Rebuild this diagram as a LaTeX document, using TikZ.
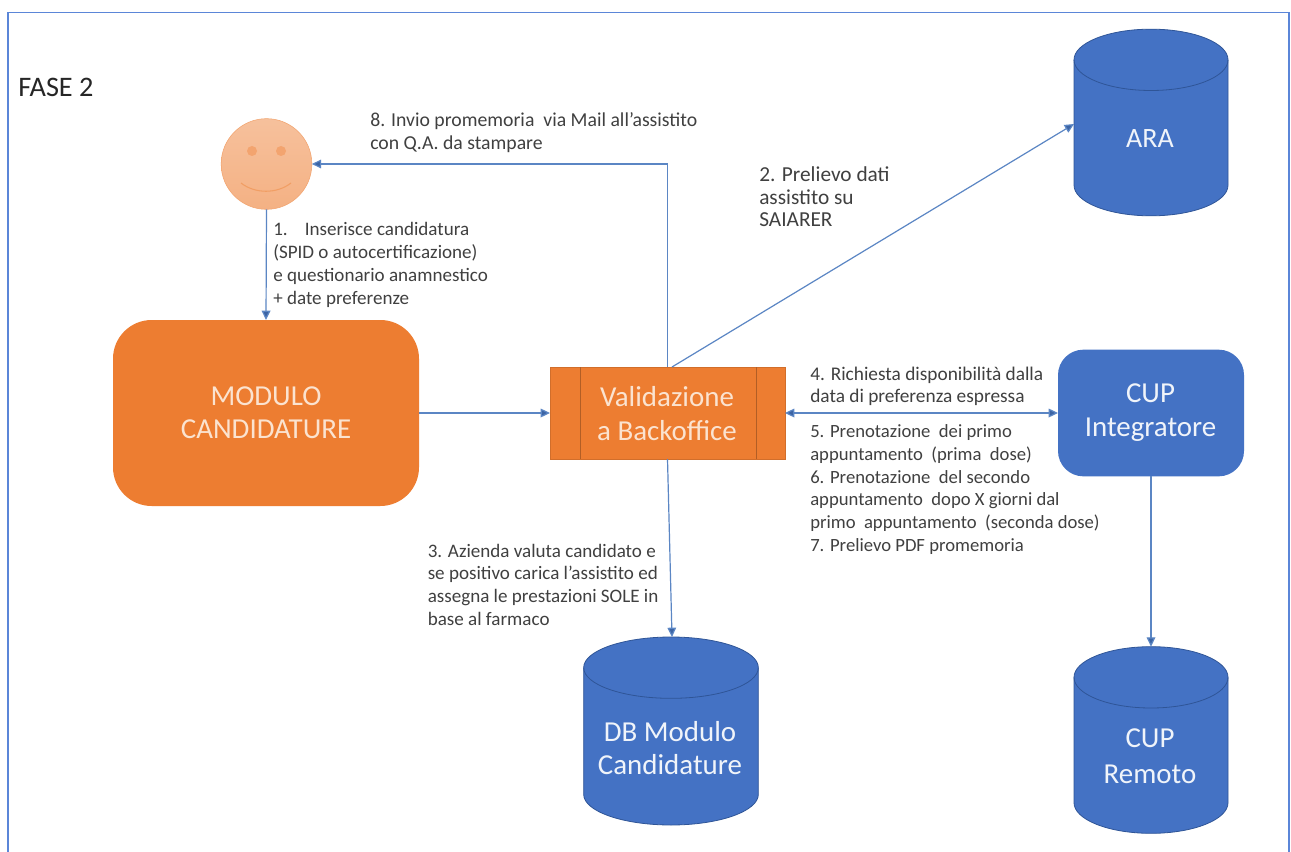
\documentclass[tikz,border=0pt]{standalone}
\usepackage{fontspec}
\setmainfont{Carlito}
\usetikzlibrary{arrows.meta}
\definecolor{framec}{HTML}{5B86D8}
\definecolor{blu}{HTML}{4472C4}
\definecolor{bluline}{HTML}{2F5597}
\definecolor{arr}{HTML}{5B86C4}
\definecolor{oran}{HTML}{ED7D31}
\definecolor{cream}{HTML}{FBE3D0}
\definecolor{txt}{HTML}{404040}
\tikzset{
  dbbox/.style={minimum width=115.5pt,minimum height=140pt,inner sep=0pt,outer sep=0pt},
  boxlabel/.style={text=white!92!blu,font=\fontsize{21.7}{27}\selectfont,align=center},
  note/.style={text=txt,font=\fontsize{14.3}{17.2}\selectfont,align=left,anchor=north west,inner sep=0pt},
  link/.style={draw=arr,line width=0.9pt,-{Triangle[length=7pt,width=6.5pt,fill=bluline!70!arr]}},
  dlink/.style={link,{Triangle[length=7pt,width=6.5pt,fill=bluline!70!arr]}-{Triangle[length=7pt,width=6.5pt,fill=bluline!70!arr]}},
}
% #1 node name, #2 half width of the drum
\newcommand{\dbdraw}[2]{%
  \path[fill=blu,draw=bluline,line width=0.6pt]
    ([yshift=-23pt]#1.north west) arc[start angle=180,end angle=0,x radius=#2,y radius=23pt]
    -- ([yshift=23pt]#1.south east) arc[start angle=360,end angle=180,x radius=#2,y radius=23pt] -- cycle;
  \draw[bluline,line width=0.6pt]
    ([yshift=-23pt]#1.north west) arc[start angle=180,end angle=360,x radius=#2,y radius=23pt];
}
\begin{document}
\begin{tikzpicture}[x=0.75pt,y=-0.75pt]
\useasboundingbox (0,0) rectangle (1291,852);
\fill[white] (0,0) rectangle (1291,852);
\draw[framec,line width=1.3pt] (8,852) -- (8,12.5) -- (1289,12.5) -- (1289,852);
\node[anchor=west,inner sep=0pt,text=black!85,font=\fontsize{21.2}{25}\selectfont] (fase) at (18,87) {FASE 2};

% person
\node[circle,minimum size=68pt,inner sep=0pt,outer sep=0pt,draw=oran!70!white,line width=0.4pt,
  top color=oran!48!white,bottom color=oran!60!white] (face) at (266.5,164) {};
\fill[oran!70!white] (252,151) circle (5);
\fill[oran!70!white] (281,151) circle (5);
\draw[oran!75!white,line width=0.8pt] (241,183) .. controls (255,194) and (277,194) .. (291,183);

% boxes
\node[fill=oran,rounded corners=29pt,minimum width=229.5pt,minimum height=139.5pt,
  inner sep=0pt,outer sep=0pt] (mod) at (266,413) {};
\node[boxlabel,text=cream,font=\fontsize{21.7}{25}\selectfont] (modt) at (266,413) {MODULO\\CANDIDATURE};

\node[draw=oran!88!black,line width=0.5pt,fill=oran,minimum width=176.25pt,minimum height=69pt,
  inner sep=0pt,outer sep=0pt] (val) at (667.5,413) {};
\draw[oran!75!black,line width=0.5pt] (val.north west) ++(30,0) -- ++(0,92) (val.north east) ++(-29,0) -- ++(0,92);
\node[boxlabel,text=cream,font=\fontsize{21.7}{26}\selectfont] (valt) at (667,413.5) {Validazione\\a Backoffice};

\node[fill=blu,rounded corners=19pt,minimum width=139.5pt,minimum height=95pt,
  inner sep=0pt,outer sep=0pt] (cup) at (1151,413) {};
\node[boxlabel,font=\fontsize{21.7}{25.5}\selectfont] (cupt) at (1150.5,413) {CUP\\Integratore};

% databases
\node[dbbox] (ara) at (1151,122.5) {};
\dbdraw{ara}{57.75pt}
\node[boxlabel,font=\fontsize{21}{25}\selectfont] (arat) at (1150,139) {ARA};
\node[dbbox,minimum width=131pt,minimum height=141pt] (dbm) at (671,731) {};
\dbdraw{dbm}{65.5pt}
\node[boxlabel,font=\fontsize{21.7}{25}\selectfont] (dbmt) at (670,748) {DB Modulo\\Candidature};
\node[dbbox] (rem) at (1151,740) {};
\dbdraw{rem}{57.75pt}
\node[boxlabel] (remt) at (1150,756) {CUP\\Remoto};

% connectors
\coordinate (valtopb) at (672,367);
\coordinate (dbtop) at (672,637);
\coordinate (arain) at (1074,124);
\draw[link] (face.south) -- (mod.north);
\draw[link] (mod.east) -- (val.west);
\draw[link] (val.north) |- (face.east);
\draw[link] (valtopb) -- (arain);
\draw[link] (val.south) -- (dbtop);
\draw[dlink] (val.east) -- (cup.west);
\draw[link] (cup.south) -- (rem.north);

% labels
\node[note,font=\fontsize{14.8}{17.2}\selectfont] (n8) at (370,112) {8. Invio promemoria~~via Mail all’assistito\\con Q.A. da stampare};
\node[note,font=\fontsize{16}{17.2}\selectfont] (n2) at (759,166) {2. Prelievo dati\\assistito su\\SAIARER};
\node[note] (n1) at (273,222) {1.\hspace{0.9em}Inserisce candidatura\\(SPID o autocertificazione)\\e questionario anamnestico\\+ date preferenze};
\node[note,font=\fontsize{14.5}{17}\selectfont] (n4) at (810,366.5) {4. Richiesta disponibilità dalla\\data di preferenza espressa};
\node[note,font=\fontsize{14}{17}\selectfont] (n5) at (810,424.5) {5. Prenotazione~~dei primo\\appuntamento~~(prima~~dose)\\6. Prenotazione~~del secondo\\appuntamento~~dopo X giorni dal\\primo~~appuntamento~~(seconda dose)\\7. Prelievo PDF promemoria};
\node[note] (n3) at (427.5,543.5) {3. Azienda valuta candidato e\\se positivo carica l’assistito ed\\assegna le prestazioni SOLE in\\base al farmaco};
\end{tikzpicture}
\end{document}
